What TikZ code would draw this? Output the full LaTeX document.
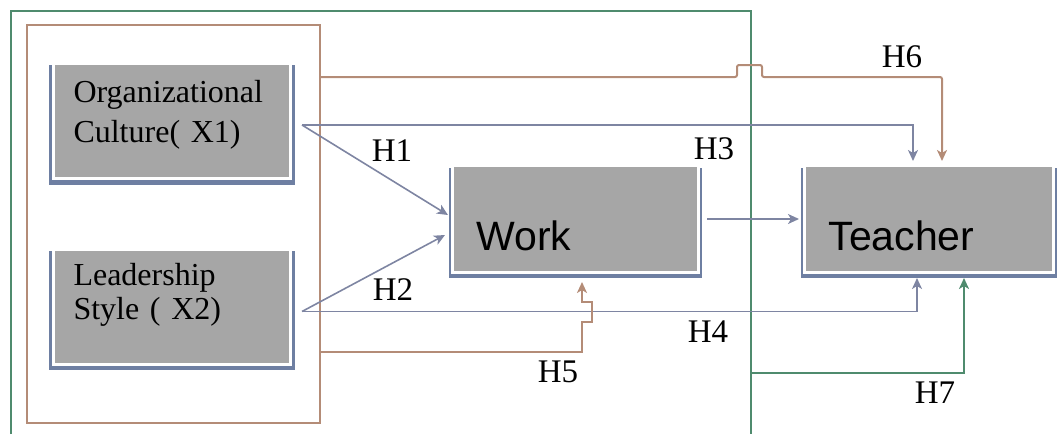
\documentclass[tikz,border=0pt]{standalone}
\usepackage{fontspec}
\setmainfont{Liberation Serif}
\newfontfamily\arialfont{Liberation Sans}
\usetikzlibrary{arrows.meta,shadows}
\definecolor{BoxGray}{HTML}{A6A6A6}
\definecolor{ShadeBlue}{HTML}{6E7FA2}
\definecolor{LinkBlue}{HTML}{7E85A2}
\definecolor{LinkBrown}{HTML}{B48C77}
\definecolor{FrameGreen}{HTML}{4F8B6E}

\begin{document}
\begin{tikzpicture}[x=1pt,y=-1pt,
    varbox/.style={fill=BoxGray,draw=white,line width=3pt,general shadow={fill=ShadeBlue,shadow scale=1.04,shadow yshift=-4pt},minimum height=115pt,text width=197pt,inner xsep=20pt,inner ysep=4pt,align=left,font=\fontsize{32}{40}\selectfont},
    outbox/.style={fill=BoxGray,draw=white,line width=3pt,general shadow={fill=ShadeBlue,shadow scale=1.03,shadow yshift=-4pt},minimum height=107pt,inner xsep=24pt,inner ysep=4pt,align=left,text height=62pt,text depth=0pt,font=\arialfont\fontsize{41}{49}\selectfont},
    groupbox/.style={draw=LinkBrown,line width=2pt,minimum width=293pt,minimum height=398pt},
    link/.style={draw=LinkBlue,line width=1.6pt,-{Stealth[length=11pt,width=10pt,inset=3pt]}},
    brownlink/.style={draw=LinkBrown,line width=2pt,-{Stealth[length=11pt,width=10pt,inset=3pt]}},
    greenlink/.style={draw=FrameGreen,line width=2pt,-{Stealth[length=11pt,width=10pt,inset=3pt]}},
    hyp/.style={font=\fontsize{33}{33}\selectfont,inner sep=0pt}
  ]
  \useasboundingbox (0,0) rectangle (1058,434);

  % outer green frame
  \coordinate (fbl) at (11,434);
  \coordinate (ftl) at (11,11);
  \coordinate (ftr) at (751,11);
  \coordinate (fbr) at (751,434);
  \draw[FrameGreen,line width=2pt] (fbl) -- (ftl) -- (ftr) -- (fbr);

  % independent variables
  \node[groupbox] (grp) at (173.5,224) {};
  \node[varbox,text height=24pt,text depth=62pt] (x1) at (172,121) {Organizational\\Culture( X1)};
  \node[varbox,text height=22pt,text depth=65pt,font=\fontsize{32}{34}\selectfont] (x2) at (172,306.5) {Leadership\\Style ( X2)};

  % mediator and outcome
  \node[outbox,text width=198pt] (work) at (575.5,219) {Work};
  \node[outbox,text width=201pt] (teacher) at (929,219) {Teacher};

  \coordinate (cult) at ([shift={(10,4)}]x1.east);
  \coordinate (lead) at ([shift={(10,5)}]x2.east);
  \coordinate (h7s) at (751,373);

  \draw[link] (cult) -- ([shift={(-3,-4)}]work.west);
  \draw[link] (lead) -- ([shift={(-6,16)}]work.west);
  \draw[link] (cult) -| ([shift={(-16,-3)}]teacher.north);
  \draw[link] (lead) -| ([shift={(-12,4)}]teacher.south);
  \draw[link] ([shift={(7,0)}]work.east) -- ([shift={(-4,0)}]teacher.west);

  \draw[brownlink,rounded corners=2pt] ([shift={(0,-147)}]grp.east) -- ++(416,0) -- ++(0,-12) -- ++(25,0) -- ++(0,12) -| ([shift={(13,-3)}]teacher.north);
  \draw[brownlink] ([shift={(0,128)}]grp.east) -- ++(261,0) -- ++(0,-30) -- ++(10,0) -- ++(0,-20) -- ++(-10,0) -- ([shift={(6.5,8)}]work.south);
  \draw[greenlink] (h7s) -| ([shift={(35,4)}]teacher.south);

  \node[hyp] (h1) at (392,151) {H1};
  \node[hyp] (h2) at (393,290) {H2};
  \node[hyp] (h3) at (714,149) {H3};
  \node[hyp] (h4) at (708,332) {H4};
  \node[hyp] (h5) at (558,372) {H5};
  \node[hyp] (h6) at (902,57) {H6};
  \node[hyp] (h7) at (935,393) {H7};
\end{tikzpicture}
\end{document}
